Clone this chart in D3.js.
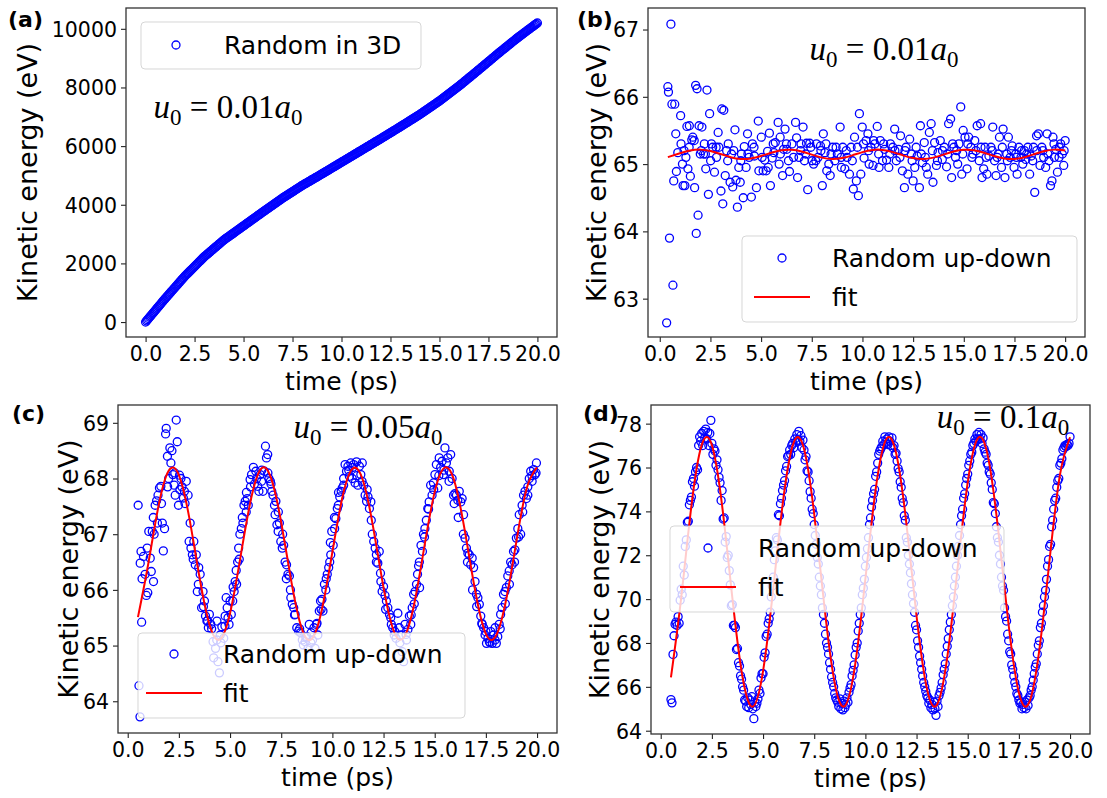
<!DOCTYPE html>
<html><head><meta charset="utf-8">
<script src="https://cdn.jsdelivr.net/npm/d3@7"></script>
<style>
body{margin:0;background:#fff}
text{font-family:"DejaVu Sans",sans-serif;fill:#000}
</style>
</head><body>
<svg id="chart" width="1107" height="798"></svg>
<script>
// ---------------- DATA ----------------
const panelLetters = ["(a)", "(b)", "(c)", "(d)"];
const u0Values = ["0.01", "0.01", "0.05", "0.1"];
const xTickValues = [0, 2.5, 5, 7.5, 10, 12.5, 15, 17.5, 20];
const aYTicks = [0, 2000, 4000, 6000, 8000, 10000];
const bYTicks = [63, 64, 65, 66, 67];
const cYTicks = [64, 65, 66, 67, 68, 69];
const dYTicks = [64, 66, 68, 70, 72, 74, 76, 78];
const legendA = ["Random in 3D"];
const legendBCD = ["Random up-down", "fit"];
const xLabel = "time (ps)";
const yLabel = "Kinetic energy (eV)";

// (a) sampled every 0.05 ps from 0 ps
const aTimeStart = 0, aTimeStep = 0.05;
const aEnergy = [0,41,82,121,161,201,242,281,320,360,401,441,482,521,560,600,641,681,722,761,800,
838,876,913,951,990,1029,1066,1104,1142,1181,1218,1255,1294,1333,1370,1408,1446,1485,1522,1560,
1594,1628,1660,1693,1727,1762,1794,1827,1861,1896,1928,1961,1995,2030,2062,2095,2129,2164,2197,2230,
2259,2288,2315,2343,2372,2402,2429,2457,2486,2516,2543,2571,2600,2630,2657,2685,2714,2744,2772,2800,
2824,2849,2872,2895,2920,2945,2968,2991,3016,3041,3064,3087,3112,3137,3160,3183,3208,3233,3256,3280,
3304,3329,3352,3375,3400,3425,3448,3471,3496,3521,3544,3567,3592,3617,3640,3663,3688,3713,3736,3760,
3784,3808,3830,3853,3877,3902,3924,3947,3971,3996,4018,4041,4065,4090,4112,4135,4159,4184,4207,4230,
4252,4274,4294,4315,4337,4360,4380,4401,4423,4446,4466,4487,4509,4532,4552,4573,4595,4618,4639,4660,
4680,4700,4718,4737,4757,4778,4796,4815,4835,4856,4874,4893,4913,4934,4952,4971,4991,5012,5031,5050,
5070,5091,5110,5129,5150,5171,5190,5209,5230,5251,5270,5289,5310,5331,5350,5369,5390,5411,5430,5450,
5470,5491,5510,5529,5550,5571,5590,5609,5630,5651,5670,5689,5710,5731,5750,5769,5790,5811,5830,5850,
5870,5891,5910,5929,5950,5971,5990,6009,6030,6051,6070,6089,6110,6131,6150,6169,6190,6211,6230,6250,
6271,6292,6311,6331,6352,6374,6393,6413,6434,6456,6475,6495,6516,6538,6557,6577,6598,6620,6640,6660,
6681,6703,6723,6743,6765,6787,6807,6827,6849,6871,6891,6911,6933,6955,6975,6995,7017,7039,7059,7080,
7103,7127,7149,7171,7195,7219,7241,7263,7287,7311,7333,7355,7379,7403,7425,7447,7471,7495,7517,7540,
7566,7592,7616,7641,7667,7694,7718,7743,7769,7796,7820,7845,7871,7898,7922,7947,7973,8000,8025,8050,
8078,8106,8132,8159,8187,8216,8242,8269,8297,8326,8352,8379,8407,8436,8462,8489,8517,8546,8573,8600,
8628,8657,8684,8711,8740,8769,8796,8823,8852,8881,8908,8935,8964,8993,9020,9047,9076,9105,9132,9160,
9187,9215,9241,9267,9295,9323,9349,9375,9403,9431,9457,9483,9511,9539,9565,9591,9619,9647,9673,9700,
9725,9751,9775,9799,9825,9851,9875,9899,9925,9951,9975,9999,10025,10051,10075,10099,10125,10151,10175,10200];

// (b) points [time, energy]
const bPoints = [[0.34,62.64],[0.4,66.15],[0.43,66.07],[0.48,63.9],[0.55,67.08],[0.6,65.89],[0.65,63.2],[0.69,64.75],[0.74,65.89],[0.79,65.45],[0.82,64.89],[0.89,65.17],[1.03,65.72],[1.12,65.0],[1.15,64.68],[1.24,64.68],[1.29,65.1],[1.34,65.56],[1.39,64.93],[1.46,65.57],[1.51,64.82],[1.58,65.36],[1.63,65.4],[1.72,64.65],[1.77,66.17],[1.8,63.97],[1.84,66.12],[1.89,64.24],[1.94,65.57],[2.0,65.15],[2.08,65.55],[2.16,65.15],[2.2,65.3],[2.27,64.93],[2.33,66.1],[2.4,64.55],[2.46,65.75],[2.51,65.05],[2.61,65.25],[2.7,64.88],[2.78,65.25],[2.88,65.47],[2.92,65.25],[3.02,64.6],[3.06,65.82],[3.11,64.41],[3.16,65.8],[3.23,64.83],[3.3,65.2],[3.38,65.3],[3.47,64.73],[3.54,65.15],[3.6,64.66],[3.71,65.51],[3.76,64.76],[3.83,64.36],[3.9,64.95],[3.97,64.73],[4.03,65.15],[4.12,64.5],[4.17,65.26],[4.26,64.95],[4.33,65.45],[4.41,65.1],[4.52,64.51],[4.57,65.3],[4.67,65.12],[4.77,64.65],[4.86,65.64],[4.89,64.9],[5.01,65.4],[5.1,64.9],[5.18,65.06],[5.25,64.9],[5.32,65.19],[5.41,65.46],[5.46,64.68],[5.55,65.09],[5.63,65.17],[5.7,65.32],[5.84,65.62],[5.89,65.0],[5.94,65.4],[6.06,64.83],[6.11,65.22],[6.18,65.52],[6.27,65.22],[6.35,65.05],[6.4,64.89],[6.52,65.3],[6.7,65.62],[6.75,65.39],[6.8,64.8],[6.87,65.1],[6.97,65.3],[7.07,65.55],[7.14,65.05],[7.24,65.31],[7.3,64.62],[7.4,65.31],[7.52,65.05],[7.59,65.0],[7.73,65.3],[7.81,65.1],[7.93,65.27],[8.02,64.68],[8.07,65.45],[8.15,65.17],[8.24,64.9],[8.34,65.0],[8.41,64.83],[8.53,65.25],[8.64,65.05],[8.76,65.15],[8.9,65.55],[8.96,64.95],[9.03,65.25],[9.13,64.93],[9.24,65.1],[9.36,64.85],[9.44,65.25],[9.55,64.63],[9.61,65.4],[9.7,64.75],[9.8,64.53],[9.85,65.75],[9.92,64.85],[9.99,65.55],[10.08,65.09],[10.18,65.35],[10.27,65.45],[10.33,65.0],[10.42,65.25],[10.52,64.98],[10.61,65.3],[10.73,65.56],[10.82,64.95],[10.88,65.35],[10.99,65.05],[11.09,65.22],[11.19,65.06],[11.3,64.95],[11.38,65.3],[11.5,65.25],[11.59,65.52],[11.67,65.05],[11.78,65.22],[11.88,65.42],[11.97,64.9],[12.07,64.65],[12.15,65.25],[12.24,64.85],[12.33,65.37],[12.41,65.15],[12.5,64.75],[12.58,64.95],[12.7,65.12],[12.81,64.65],[12.86,65.57],[12.96,65.02],[13.05,65.32],[13.15,64.95],[13.22,64.85],[13.3,65.47],[13.39,65.6],[13.48,64.73],[13.56,65.32],[13.65,64.98],[13.73,65.17],[13.84,65.35],[13.94,65.07],[14.04,65.25],[14.15,64.96],[14.25,65.6],[14.35,65.67],[14.4,64.8],[14.51,65.25],[14.59,65.1],[14.7,65.0],[14.76,65.3],[14.85,65.85],[14.9,64.85],[14.97,65.5],[15.06,65.4],[15.16,64.93],[15.24,65.4],[15.35,65.25],[15.45,65.15],[15.54,65.35],[15.66,65.57],[15.76,65.05],[15.83,65.6],[15.9,64.8],[15.98,64.93],[16.05,65.25],[16.14,64.85],[16.24,65.12],[16.34,65.25],[16.43,65.55],[16.52,65.05],[16.59,64.83],[16.65,65.1],[16.76,65.4],[16.86,64.95],[16.94,65.52],[17.03,64.8],[17.12,65.15],[17.2,65.4],[17.29,65.1],[17.39,65.27],[17.48,64.95],[17.56,65.15],[17.63,64.85],[17.72,65.25],[17.82,65.1],[17.91,65.0],[17.99,65.2],[18.06,65.07],[18.16,65.25],[18.25,64.85],[18.33,65.12],[18.44,65.25],[18.5,64.58],[18.59,65.42],[18.68,65.45],[18.76,64.98],[18.85,65.25],[18.94,65.1],[19.04,64.95],[19.11,65.45],[19.2,65.05],[19.28,64.68],[19.35,64.75],[19.4,65.4],[19.47,65.1],[19.54,65.22],[19.62,64.88],[19.71,65.25],[19.78,65.3],[19.86,65.15],[19.93,64.98],[20.0,65.35],
[1.05,65.3],[1.2,65.2],[1.45,65.25],[1.7,65.35],[2.05,65.2],[2.25,65.15],[2.55,65.3],[2.8,65.1],[3.35,65.05],[3.65,65.2],[4.0,65.05],[4.35,65.15],[4.65,65.25],[5.05,65.1],[5.35,64.95],[5.6,65.3],[5.95,65.15],[6.25,65.3],[6.6,65.1],[6.95,65.2],[7.2,65.15],[7.45,65.25],[7.7,65.05],[7.95,65.2],[8.2,65.3],[8.45,65.15],[8.7,65.25],[8.95,65.1],[9.2,65.2],[9.5,65.05],[9.75,65.25],[10.05,65.3],[10.3,65.2],[10.55,65.35],[10.8,65.15],[11.05,65.3],[11.35,65.15],[11.6,65.2],[11.85,65.1],[12.1,65.2],[12.45,65.05],[12.65,65.25],[12.9,65.15],[13.1,65.1],[13.45,65.2],[13.7,65.05],[13.95,65.2],[14.2,65.15],[14.45,65.3],[14.65,65.2],[14.95,65.15],[15.2,65.3],[15.4,65.1],[15.6,65.2],[15.85,65.25],[16.1,65.1],[16.4,65.2],[16.7,65.15],[16.9,65.25],[17.15,65.05],[17.35,65.2],[17.6,65.1],[17.85,65.2],[18.1,65.15],[18.4,65.05],[18.6,65.2],[18.9,65.2],[19.15,65.15],[19.45,65.3],[19.7,65.1],[19.95,65.2]];
const bFitTime = [0.4,1.0,1.5,2.0,2.5,3.0,3.5,4.0,4.5,5.0,5.5,6.0,6.5,7.0,7.5,8.0,8.5,9.0,9.5,10.0,10.5,11.0,11.5,12.0,12.5,13.0,13.5,14.0,14.5,15.0,15.5,16.0,16.5,17.0,17.5,18.0,18.5,19.0,19.5,20.0];
const bFitEnergy = [65.103,65.160,65.201,65.215,65.194,65.150,65.103,65.077,65.084,65.121,65.169,65.206,65.213,65.187,65.140,65.096,65.075,65.089,65.130,65.178,65.211,65.211,65.178,65.130,65.089,65.075,65.096,65.140,65.187,65.213,65.206,65.169,65.121,65.084,65.077,65.103,65.150,65.194,65.215,65.201];

// (c) points [time, energy]
const cPoints = [[0.51,67.52],[0.55,64.28],[0.6,63.72],[0.61,66.48],[0.65,66.69],[0.68,65.42],[0.77,66.6],[0.85,66.28],[0.91,65.9],[0.98,65.95],[1.03,67.05],[1.1,66.57],[1.15,66.33],[1.2,67.05],[1.26,66.15],[1.29,67.0],[1.34,67.52],[1.41,67.6],[1.48,67.7],[1.55,67.83],[1.62,67.86],[1.69,67.2],[1.74,66.7],[1.8,67.1],[1.85,68.8],[1.88,68.9],[1.94,68.4],[2.0,68.0],[2.06,68.55],[2.11,68.28],[2.16,68.5],[2.21,68.07],[2.27,67.88],[2.32,67.7],[2.37,69.05],[2.42,68.66],[2.48,67.52],[2.53,68.06],[2.6,68.0],[2.65,67.85],[2.72,67.65],[2.77,67.77],[2.86,67.95],[2.95,67.7],[3.0,66.87],[3.09,66.75],[3.16,66.63],[3.23,66.87],[3.3,66.45],[3.35,66.63],[3.4,65.97],[3.47,66.4],[3.54,66.28],[3.61,65.68],[3.68,65.97],[3.75,65.8],[3.8,65.53],[3.87,65.44],[3.94,65.32],[3.99,65.56],[4.06,65.38],[4.17,65.07],[4.2,64.78],[4.29,64.95],[4.36,65.44],[4.41,64.71],[4.48,64.51],[4.52,65.19],[4.6,65.34],[4.69,65.13],[4.76,65.53],[4.81,65.86],[4.86,65.68],[4.95,65.38],[5.0,65.8],[5.06,65.56],[5.13,65.8],[5.2,65.97],[5.25,66.15],[5.32,66.1],[5.37,66.5],[5.42,66.75],[5.48,67.0],[5.55,67.1],[5.63,67.2],[5.68,67.52],[5.74,67.59],[5.79,67.4],[5.84,67.64],[5.89,67.52],[5.98,67.98],[6.05,68.07],[6.14,68.2],[6.19,67.9],[6.26,68.13],[6.35,67.86],[6.41,67.77],[6.47,68.07],[6.54,67.95],[6.61,67.77],[6.68,68.13],[6.73,68.58],[6.78,68.37],[6.84,68.43],[6.9,68.0],[6.97,67.95],[7.04,67.77],[7.1,67.7],[7.17,67.52],[7.24,67.59],[7.29,67.17],[7.36,67.4],[7.41,67.2],[7.48,66.87],[7.57,67.0],[7.62,66.8],[7.69,66.5],[7.76,66.45],[7.83,66.28],[7.9,66.25],[7.97,65.86],[8.04,65.74],[8.11,65.68],[8.18,65.56],[8.26,65.32],[8.35,65.26],[8.44,65.23],[8.53,65.1],[8.58,65.01],[8.67,65.07],[8.75,65.16],[8.81,64.95],[8.87,65.38],[8.96,65.23],[9.03,65.1],[9.1,65.32],[9.15,64.95],[9.22,65.38],[9.29,65.19],[9.36,65.62],[9.42,65.8],[9.49,65.83],[9.54,65.62],[9.61,66.1],[9.68,66.0],[9.75,66.28],[9.82,66.4],[9.87,66.5],[9.92,66.63],[9.97,67.05],[10.04,66.8],[10.11,67.1],[10.17,67.28],[10.24,67.46],[10.29,67.52],[10.36,67.67],[10.43,67.77],[10.48,67.83],[10.55,67.88],[10.62,68.25],[10.69,68.13],[10.76,68.22],[10.83,68.04],[10.9,68.28],[10.97,68.0],[11.04,68.25],[11.11,67.92],[11.18,68.3],[11.25,67.88],[11.32,68.22],[11.39,68.07],[11.46,68.28],[11.53,67.88],[11.6,67.7],[11.67,67.59],[11.74,67.67],[11.81,67.46],[11.88,67.58],[11.95,67.0],[12.02,66.87],[12.09,66.75],[12.15,66.63],[12.22,66.48],[12.29,66.69],[12.37,66.15],[12.43,65.97],[12.5,66.06],[12.57,65.9],[12.64,65.8],[12.71,65.68],[12.79,65.56],[12.88,65.38],[12.95,65.32],[13.02,65.19],[13.11,65.13],[13.2,65.58],[13.27,65.32],[13.34,65.19],[13.41,64.89],[13.48,64.71],[13.55,65.38],[13.62,65.1],[13.69,65.29],[13.76,65.53],[13.83,65.38],[13.9,65.68],[13.97,65.92],[14.04,65.97],[14.11,66.1],[14.16,66.28],[14.21,66.43],[14.26,66.04],[14.33,66.8],[14.4,66.69],[14.45,67.0],[14.52,67.1],[14.59,67.25],[14.66,67.46],[14.73,67.58],[14.8,67.88],[14.87,67.7],[14.94,67.92],[15.01,68.07],[15.08,68.25],[15.15,67.83],[15.22,68.37],[15.29,68.2],[15.36,68.31],[15.43,68.07],[15.5,68.55],[15.57,68.28],[15.64,68.37],[15.71,68.13],[15.78,68.43],[15.85,68.0],[15.92,67.7],[15.99,67.73],[16.06,67.7],[16.13,67.61],[16.2,67.77],[16.27,67.58],[16.34,67.64],[16.41,67.35],[16.48,66.93],[16.55,66.75],[16.62,66.66],[16.69,66.63],[16.76,66.45],[16.83,66.57],[16.9,66.4],[16.97,66.15],[17.04,65.92],[17.11,65.86],[17.18,65.74],[17.25,65.53],[17.32,65.38],[17.39,65.32],[17.46,65.19],[17.53,65.04],[17.6,65.13],[17.67,65.07],[17.74,65.25],[17.81,65.04],[17.88,65.19],[17.95,65.32],[18.01,65.04],[18.08,65.16],[18.15,65.38],[18.22,65.56],[18.29,65.68],[18.36,65.92],[18.43,65.97],[18.5,66.04],[18.57,66.25],[18.64,66.34],[18.71,66.5],[18.78,66.45],[18.85,66.69],[18.92,66.72],[18.99,66.93],[19.06,67.1],[19.13,67.35],[19.2,67.0],[19.27,67.52],[19.34,67.7],[19.41,67.77],[19.48,67.64],[19.55,67.7],[19.62,68.0],[19.69,68.13],[19.76,67.95],[19.83,68.16],[19.9,68.07],[19.97,68.28],
[0.7,66.2],[0.95,66.75],[1.25,67.3],[1.45,67.2],[1.65,67.55],[1.95,67.85],[2.3,68.1],[2.55,67.8],[2.8,67.55],[3.05,67.2],[3.2,66.55],[3.45,66.1],[3.7,65.7],[3.9,65.45],[4.1,65.3],[4.35,65.1],[4.55,65.05],[4.75,65.35],[4.9,65.5],[5.15,66.05],[5.3,66.35],[5.45,66.55],[5.6,67.3],[5.8,67.75],[6.0,67.85],[6.3,68.0],[6.55,68.15],[6.85,68.1],[7.0,67.9],[7.2,67.35],[7.35,67.05],[7.55,66.75],[7.75,66.2],[7.95,66.0],[8.15,65.55],[8.4,65.3],[8.7,65.15],[8.95,65.05],[9.25,65.4],[9.45,65.65],[9.7,66.2],[9.9,66.85],[10.1,67.3],[10.3,67.75],[10.55,68.0],[10.8,68.15],[11.0,68.2],[11.2,68.05],[11.45,67.95],[11.7,67.8],[11.9,67.25],[12.15,66.5],[12.35,66.3],[12.6,65.65],[12.85,65.5],[13.05,65.25],[13.3,65.05],[13.6,65.2],[13.85,65.55],[14.0,65.75],[14.25,66.5],[14.5,66.95],[14.7,67.45],[14.95,67.8],[15.2,68.05],[15.45,68.15],[15.7,67.95],[15.95,67.55],[16.15,67.3],[16.4,67.0],[16.6,66.5],[16.85,66.0],[17.05,65.7],[17.3,65.4],[17.5,65.25],[17.7,65.05],[17.95,65.1],[18.2,65.3],[18.45,65.75],[18.65,66.1],[18.9,66.5],[19.1,66.95],[19.3,67.4],[19.55,67.85],[19.75,68.05],[19.95,68.1]];
const cFitTime = [0.5,1.0,1.5,2.0,2.5,3.0,3.5,4.0,4.5,5.0,5.5,6.0,6.5,7.0,7.5,8.0,8.5,9.0,9.5,10.0,10.5,11.0,11.5,12.0,12.5,13.0,13.5,14.0,14.5,15.0,15.5,16.0,16.5,17.0,17.5,18.0,18.5,19.0,19.5,20.0];
const cFitEnergy = [65.51,66.46,67.50,68.14,68.06,67.31,66.24,65.37,65.11,65.58,66.57,67.59,68.17,68.01,67.21,66.14,65.31,65.12,65.67,66.68,67.68,68.18,67.96,67.11,66.04,65.26,65.15,65.75,66.79,67.76,68.20,67.90,67.00,65.94,65.21,65.18,65.84,66.89,67.83,68.20];

// (d) sampled every 0.05 ps from 0.5 ps
const dTimeStart = 0.5, dTimeStep = 0.05;
const dEnergy = [65.42,65.27,67.48,68.33,68.85,68.95,68.80,69.20,68.90,69.95,
70.45,70.20,71.50,71.10,72.40,72.70,73.50,73.55,74.30,74.50,
74.65,75.35,75.50,75.15,75.80,76.00,75.90,77.00,77.40,77.20,
77.55,77.00,77.65,77.35,77.75,77.30,77.60,77.00,77.55,78.15,
77.10,76.60,76.85,76.75,76.10,76.35,75.90,75.55,75.30,74.50,
74.95,73.65,73.70,72.60,72.85,71.90,72.00,71.30,70.65,69.70,
69.75,68.80,68.80,68.70,67.70,67.75,67.10,66.95,66.50,66.35,
66.00,65.85,65.40,65.35,65.10,65.50,65.05,65.40,65.20,65.55,
65.00,64.55,65.30,65.10,65.25,65.45,65.85,65.70,66.40,66.60,
66.60,67.35,67.55,68.30,68.40,68.90,69.10,69.40,70.10,70.60,
71.00,71.80,72.20,72.80,72.70,73.85,73.80,74.35,74.60,74.95,
75.20,75.40,75.85,76.05,76.50,76.55,76.80,76.60,77.00,77.10,
76.90,77.30,77.15,77.50,77.25,77.65,77.20,77.45,76.90,77.25,
76.80,76.35,76.50,75.85,75.80,75.40,74.90,74.60,74.10,73.90,
73.40,72.90,72.50,71.90,71.60,71.00,70.60,70.20,69.60,69.30,
68.90,68.40,68.00,67.80,67.50,67.10,66.80,66.45,66.20,66.00,
65.70,65.50,65.40,65.30,65.10,65.45,65.00,65.25,64.95,65.35,
65.05,65.20,65.50,65.30,65.75,65.95,66.10,66.50,66.75,67.00,
67.45,67.80,68.00,68.55,68.90,69.30,69.60,70.20,70.50,70.90,
71.50,71.90,72.30,72.80,73.40,73.70,74.20,74.50,74.80,75.00,
75.60,75.80,76.20,76.60,76.75,76.85,76.95,77.20,77.05,77.40,
77.15,77.30,77.05,77.40,77.20,77.00,77.35,76.90,77.00,76.60,
76.65,76.30,75.95,75.80,75.35,75.10,74.60,74.40,73.80,73.60,
72.80,72.60,72.00,71.60,71.20,70.70,70.20,69.80,69.40,68.80,
68.60,68.10,67.80,67.40,67.10,66.80,66.50,66.20,66.00,65.80,
65.60,65.50,65.25,65.40,65.05,65.20,64.95,65.30,65.00,64.70,
65.35,65.10,65.60,65.75,65.95,66.20,66.55,66.80,67.05,67.50,
67.85,68.20,68.60,68.95,69.30,69.70,70.10,70.60,71.00,71.50,
72.00,72.40,72.90,73.40,73.80,74.10,74.60,74.80,75.20,75.50,
75.70,76.10,76.30,76.60,76.70,77.00,77.10,77.30,77.20,77.50,
77.30,77.60,77.30,77.50,77.10,77.35,76.85,76.70,76.60,76.20,
76.10,75.80,75.70,75.30,75.00,74.40,74.35,73.90,73.30,72.80,
72.60,72.00,71.60,71.00,70.60,70.40,69.60,69.20,69.00,68.40,
68.10,67.60,67.50,67.00,66.80,66.50,66.20,66.00,65.70,65.60,
65.40,65.25,65.30,65.00,65.20,65.05,65.30,65.00,65.40,65.15,
65.50,65.60,65.85,66.00,66.30,66.60,66.90,67.05,67.50,67.90,
68.10,68.70,68.90,69.40,69.70,70.10,70.40,70.90,71.50,71.80,
72.40,72.50,73.30,73.60,74.10,74.50,74.60,75.10,75.40,75.50,
76.10,76.20,76.40,76.80,76.90,77.00,76.95,77.05,77.00,77.10,
77.40];
const dFitTime = [0.5,1.0,1.5,2.0,2.5,3.0,3.5,4.0,4.5,5.0,5.5,6.0,6.5,7.0,7.5,8.0,8.5,9.0,9.5,10.0,10.5,11.0,11.5,12.0,12.5,13.0,13.5,14.0,14.5,15.0,15.5,16.0,16.5,17.0,17.5,18.0,18.5,19.0,19.5,20.0];
const dFitEnergy = [66.43,70.06,74.26,77.02,77.02,74.26,70.06,66.43,65.10,66.72,70.49,74.64,77.15,76.86,73.88,69.64,66.17,65.13,67.01,70.92,74.99,77.26,76.66,73.48,69.23,65.94,65.19,67.34,71.36,75.32,77.34,76.45,73.06,68.82,65.73,65.28,67.69,71.79,75.63,77.38];

// ---------------- DRAWING ----------------
const svg = d3.select("#chart");
const BLUE = "#0000ff", RED = "#ff0000";

function drawPanel(o) {
  const g = svg.append("g");
  const x = d3.scaleLinear().domain(o.xd).range([o.l, o.r]);
  const y = d3.scaleLinear().domain(o.yd).range([o.b, o.t]);
  const clipId = "clip" + o.idx;
  svg.append("clipPath").attr("id", clipId).append("rect")
    .attr("x", o.l).attr("y", o.t).attr("width", o.r - o.l).attr("height", o.b - o.t);
  const plot = g.append("g").attr("clip-path", `url(#${clipId})`);
  plot.selectAll("circle").data(o.pts).join("circle")
    .attr("cx", d => x(d[0])).attr("cy", d => y(d[1])).attr("r", 4)
    .attr("fill", "none").attr("stroke", BLUE).attr("stroke-width", 1.3);
  if (o.fit) {
    plot.append("path").datum(o.fit)
      .attr("d", d3.line().x(d => x(d[0])).y(d => y(d[1])).curve(d3.curveNatural))
      .attr("fill", "none").attr("stroke", RED).attr("stroke-width", 2);
  }
  const xa = g.append("g").attr("transform", `translate(0,${o.b})`)
    .call(d3.axisBottom(x).tickValues(xTickValues).tickFormat(d3.format(".1f")).tickSize(5).tickPadding(4));
  const ya = g.append("g").attr("transform", `translate(${o.l},0)`)
    .call(d3.axisLeft(y).tickValues(o.yt).tickFormat(d3.format("d")).tickSize(5).tickPadding(4));
  [xa, ya].forEach(a => {
    a.select(".domain").remove();
    a.selectAll(".tick line").attr("stroke", "#222").attr("stroke-width", 1.1);
    a.selectAll(".tick text").style("font-size", "20.5px").style("font-family", "DejaVu Sans").attr("fill", "#000");
  });
  xa.selectAll(".tick text").attr("dy", "0.71em");
  ya.selectAll(".tick text").attr("dy", "0.36em");
  // legend
  const lg = g.append("g");
  lg.append("rect").attr("x", o.leg[0]).attr("y", o.leg[1]).attr("width", o.leg[2]).attr("height", o.leg[3])
    .attr("rx", 4).attr("fill", "#fff").attr("fill-opacity", 0.8)
    .attr("stroke", "#cccccc").attr("stroke-opacity", 0.8).attr("stroke-width", 1);
  const lx = o.leg[0], ly = o.leg[1];
  lg.append("circle").attr("cx", lx + o.legMark).attr("cy", ly + o.legRow1)
    .attr("r", 4).attr("fill", "none").attr("stroke", BLUE).attr("stroke-width", 1.3);
  lg.append("text").attr("x", lx + o.legText).attr("y", ly + o.legRow1).attr("dy", "0.36em")
    .style("font-size", "25px").text(o.labels[0]);
  if (o.labels.length > 1) {
    lg.append("line").attr("x1", lx + o.legMark - 28).attr("x2", lx + o.legMark + 28)
      .attr("y1", ly + o.legRow2).attr("y2", ly + o.legRow2).attr("stroke", RED).attr("stroke-width", 2);
    lg.append("text").attr("x", lx + o.legText).attr("y", ly + o.legRow2).attr("dy", "0.36em")
      .style("font-size", "25px").text(o.labels[1]);
  }
  // frame
  g.append("rect").attr("x", o.l).attr("y", o.t).attr("width", o.r - o.l).attr("height", o.b - o.t)
    .attr("fill", "none").attr("stroke", "#333").attr("stroke-width", 1.3);
  // axis labels
  g.append("text").attr("x", (o.l + o.r) / 2).attr("y", o.b + 53).attr("text-anchor", "middle")
    .style("font-size", "25px").text(xLabel);
  g.append("text").attr("transform", `translate(${o.ylx},${(o.t + o.b) / 2}) rotate(-90)`)
    .attr("text-anchor", "middle").attr("dy", "0.36em").style("font-size", "27px").text(yLabel);
  // panel letter
  g.append("text").attr("x", o.letter[0]).attr("y", o.letter[1])
    .style("font-size", "22px").style("font-weight", "bold").text(panelLetters[o.idx]);
  // math annotation
  const m = g.append("text").attr("x", o.math[0]).attr("y", o.math[1]).attr("text-anchor", "middle")
    .style("font-family", "'Liberation Serif', serif").style("font-size", "33px");
  m.append("tspan").style("font-style", "italic").text("u");
  m.append("tspan").attr("dy", 7).style("font-size", "23px").text("0");
  m.append("tspan").attr("dy", -7).text(" = " + u0Values[o.idx]);
  m.append("tspan").style("font-style", "italic").text("a");
  m.append("tspan").attr("dy", 7).style("font-size", "23px").text("0");
}

const aPts = aEnergy.map((v, i) => [aTimeStart + i * aTimeStep, v]);
const dPts = dEnergy.map((v, i) => [dTimeStart + i * dTimeStep, v]);
const bFit = bFitTime.map((t, i) => [t, bFitEnergy[i]]);
const cFit = cFitTime.map((t, i) => [t, cFitEnergy[i]]);
const dFit = dFitTime.map((t, i) => [t, dFitEnergy[i]]);

drawPanel({idx:0, l:126, r:557, t:8, b:337, xd:[-1,21], yd:[-510,10710], yt:aYTicks,
  pts:aPts, fit:null, leg:[141,22,280,47], legMark:35, legText:83, legRow1:23, legRow2:0,
  labels:legendA, ylx:27, letter:[8,27], math:[228,118]});
drawPanel({idx:1, l:648, r:1085, t:8, b:337, xd:[-0.58,20.98], yd:[62.43,67.32], yt:bYTicks,
  pts:bPoints, fit:bFit, leg:[742,236,335,86], legMark:40, legText:90, legRow1:22, legRow2:61,
  labels:legendBCD, ylx:596, letter:[577,27], math:[884,60]});
drawPanel({idx:2, l:118, r:557, t:405, b:733, xd:[-0.475,20.975], yd:[63.43,69.32], yt:cYTicks,
  pts:cPoints, fit:cFit, leg:[138,633,327,85], legMark:36, legText:85, legRow1:21, legRow2:60,
  labels:legendBCD, ylx:68, letter:[12,421], math:[368,438]});
drawPanel({idx:3, l:651, r:1090, t:405, b:734, xd:[-0.475,20.975], yd:[63.85,78.85], yt:dYTicks,
  pts:dPts, fit:dFit, leg:[670,526,334,86], legMark:38, legText:88, legRow1:22, legRow2:61,
  labels:legendBCD, ylx:599, letter:[583,421], math:[1003,428]});
</script>
</body></html>
